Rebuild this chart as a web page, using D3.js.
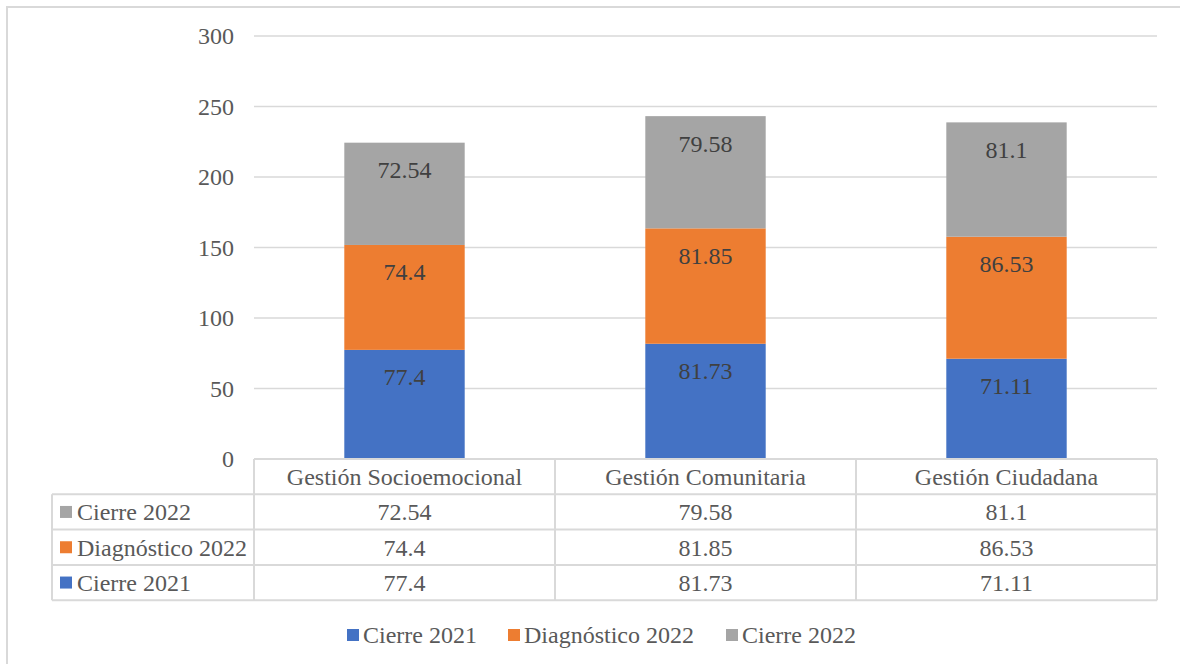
<!DOCTYPE html>
<html>
<head>
<meta charset="utf-8">
<script src="https://cdn.jsdelivr.net/npm/d3@7"></script>
<style>
  body { margin: 0; background: #fff; }
  svg { display: block; }
  svg text { font-family: 'Liberation Serif', 'Times New Roman', serif; }
</style>
</head>
<body>
<svg width="1180" height="664"></svg>
<script>
// categories and series
var categories = ['Gestión Socioemocional', 'Gestión Comunitaria', 'Gestión Ciudadana']
var seriesNames = ['Cierre 2021', 'Diagnóstico 2022', 'Cierre 2022']
var cierre2021 = [77.4, 81.73, 71.11]
var diagnostico2022 = [74.4, 81.85, 86.53]
var cierre2022 = [72.54, 79.58, 81.1]
var yTicks = [0, 50, 100, 150, 200, 250, 300]

var colours = ['#4472C4', '#ED7D31', '#A5A5A5']
var textColour = '#595959'
var lineColour = '#D9D9D9'
var fontSize = 24

var svg = d3.select('svg')

// outer chart border (right and bottom edges fall outside the picture)
svg.append('rect')
    .attr('x', 7).attr('y', 7)
    .attr('width', 1190).attr('height', 680)
    .attr('fill', 'none')
    .attr('stroke', lineColour)
    .attr('stroke-width', 2)

var rows = categories.map(function (c, i) {
  return { cat: c, s0: cierre2021[i], s1: diagnostico2022[i], s2: cierre2022[i] }
})
var keys = ['s0', 's1', 's2']
var seriesValues = [cierre2021, diagnostico2022, cierre2022]

var x = d3.scaleBand()
    .domain(categories)
    .range([254, 1157])
    .paddingInner(0.6)
    .paddingOuter(0.3)

var y = d3.scaleLinear()
    .domain([0, 300])
    .range([459, 36])

// gridlines
svg.append('g').selectAll('line')
    .data(yTicks.filter(function (t) { return t > 0 }))
  .enter().append('line')
    .attr('x1', 254).attr('x2', 1157)
    .attr('y1', function (d) { return y(d) })
    .attr('y2', function (d) { return y(d) })
    .attr('stroke', lineColour)
    .attr('stroke-width', 1.5)

// y axis labels
var yAxis = d3.axisLeft(y).tickValues(yTicks).tickSize(0).tickPadding(20)
var yg = svg.append('g')
    .attr('transform', 'translate(254,0)')
    .call(yAxis)
yg.attr('font-family', null).attr('font-size', null)
yg.select('.domain').remove()
yg.selectAll('text')
    .attr('fill', textColour)
    .style('font-size', fontSize + 'px')

var stacked = d3.stack().keys(keys)(rows)

var layers = svg.append('g').selectAll('g')
    .data(stacked)
  .enter().append('g')
    .attr('fill', function (d, i) { return colours[i] })

layers.selectAll('rect')
    .data(function (d) { return d })
  .enter().append('rect')
    .attr('x', function (d) { return x(d.data.cat) })
    .attr('width', x.bandwidth())
    .attr('y', function (d) { return y(d[1]) })
    .attr('height', function (d) { return y(d[0]) - y(d[1]) })

// labels sit near the top of each segment, as in the original
layers.selectAll('text')
    .data(function (d) { return d.map(function (p) { return { p: p, key: d.key } }) })
  .enter().append('text')
    .attr('x', function (d) { return x(d.p.data.cat) + x.bandwidth() / 2 })
    .attr('y', function (d) { return y(d.p[1]) + 27 })
    .attr('dy', '0.35em')
    .attr('text-anchor', 'middle')
    .attr('fill', '#404040')
    .style('font-size', fontSize + 'px')
    .text(function (d) { return d.p.data[d.key] })

// data table under the plot
var rowH = 35.3
var tableTop = 459
var tableLeft = 52
var table = svg.append('g')
var step = x.step()

// header row (category names)
table.selectAll('text.cat')
    .data(categories)
  .enter().append('text')
    .attr('class', 'cat')
    .attr('x', function (d) { return x(d) + x.bandwidth() / 2 })
    .attr('y', tableTop + rowH / 2)
    .attr('dy', '0.35em')
    .attr('text-anchor', 'middle')
    .attr('fill', textColour)
    .style('font-size', fontSize + 'px')
    .text(function (d) { return d })

// table rows in reverse series order
var tableOrder = [2, 1, 0]
tableOrder.forEach(function (si, r) {
  var ty = tableTop + rowH * (r + 1)
  table.append('rect')
      .attr('x', 60).attr('y', ty + rowH / 2 - 6)
      .attr('width', 12).attr('height', 12)
      .attr('fill', colours[si])
  table.append('text')
      .attr('x', 77).attr('y', ty + rowH / 2)
      .attr('dy', '0.35em')
      .attr('fill', textColour)
      .style('font-size', fontSize + 'px')
      .text(seriesNames[si])
  table.selectAll(null)
      .data(seriesValues[si])
    .enter().append('text')
      .attr('x', function (d, i) { return x(categories[i]) + x.bandwidth() / 2 })
      .attr('y', ty + rowH / 2)
      .attr('dy', '0.35em')
      .attr('text-anchor', 'middle')
      .attr('fill', textColour)
      .style('font-size', fontSize + 'px')
      .text(function (d) { return d })
})

// table grid lines
var tableBottom = tableTop + rowH * 4
var hLines = d3.range(5).map(function (r) { return tableTop + rowH * r })
table.selectAll('line.h')
    .data(hLines)
  .enter().append('line')
    .attr('x1', function (d, i) { return i < 1 ? 254 : tableLeft })
    .attr('x2', 1157)
    .attr('y1', function (d) { return d }).attr('y2', function (d) { return d })
    .attr('stroke', lineColour).attr('stroke-width', 2)
var vLines = [254, 254 + step, 254 + step * 2, 1157]
table.selectAll('line.v')
    .data(vLines)
  .enter().append('line')
    .attr('x1', function (d) { return d }).attr('x2', function (d) { return d })
    .attr('y1', tableTop).attr('y2', tableBottom)
    .attr('stroke', lineColour).attr('stroke-width', 2)
table.append('line')
    .attr('x1', tableLeft).attr('x2', tableLeft)
    .attr('y1', tableTop + rowH).attr('y2', tableBottom)
    .attr('stroke', lineColour).attr('stroke-width', 2)

// bottom legend
var legendX = [347, 508, 726]
var legend = svg.append('g').selectAll('g')
    .data(seriesNames)
  .enter().append('g')
    .attr('transform', function (d, i) { return 'translate(' + legendX[i] + ',635)' })
legend.append('rect')
    .attr('x', 0).attr('y', -6)
    .attr('width', 12).attr('height', 12)
    .attr('fill', function (d, i) { return colours[i] })
legend.append('text')
    .attr('x', 16)
    .attr('dy', '0.35em')
    .attr('fill', textColour)
    .style('font-size', fontSize + 'px')
    .text(function (d) { return d })
</script>
</body>
</html>
